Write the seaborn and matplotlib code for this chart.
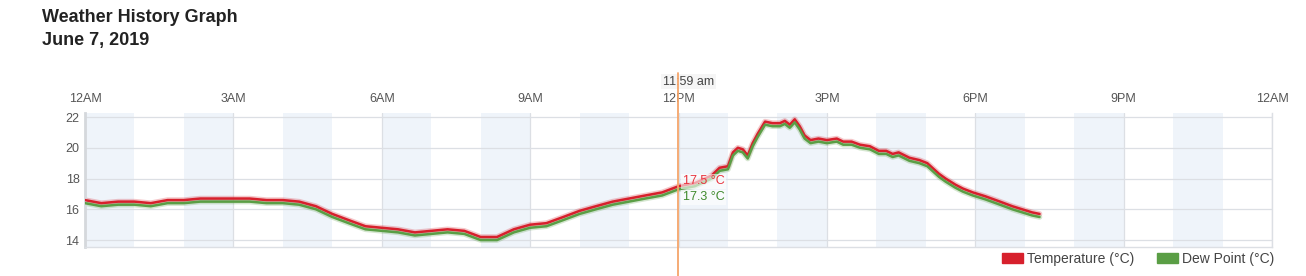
import matplotlib
matplotlib.use("Agg")
import matplotlib.pyplot as plt
import matplotlib.patches as mpatches
import seaborn as sns
import pandas as pd

# ---- data ----
hours = [0.0, 0.33, 0.67, 1.0, 1.33, 1.67, 2.0, 2.33, 2.67, 3.0, 3.33, 3.67,
         4.0, 4.33, 4.67, 5.0, 5.33, 5.67, 6.0, 6.33, 6.67, 7.0, 7.33, 7.67,
         8.0, 8.33, 8.67, 9.0, 9.33, 9.67, 10.0, 10.33, 10.67, 11.0, 11.33,
         11.67, 12.0, 12.33, 12.67, 12.83, 13.0, 13.1, 13.2, 13.3, 13.4, 13.5,
         13.6, 13.75, 13.9, 14.05, 14.15, 14.25, 14.35, 14.45, 14.55, 14.67,
         14.83, 15.0, 15.2, 15.33, 15.5, 15.67, 15.87, 16.05, 16.2, 16.33,
         16.45, 16.67, 16.87, 17.03, 17.15, 17.27, 17.4, 17.6, 17.75, 17.95,
         18.2, 18.5, 18.75, 18.9, 19.0, 19.15, 19.3]
temperature = [16.6, 16.4, 16.5, 16.5, 16.4, 16.6, 16.6, 16.7, 16.7, 16.7, 16.7, 16.6,
               16.6, 16.5, 16.2, 15.7, 15.3, 14.9, 14.8, 14.7, 14.5, 14.6, 14.7, 14.6,
               14.2, 14.2, 14.7, 15.0, 15.1, 15.5, 15.9, 16.2, 16.5, 16.7, 16.9,
               17.1, 17.5, 17.7, 18.2, 18.7, 18.8, 19.7, 20.0, 19.9, 19.5, 20.3,
               20.9, 21.7, 21.6, 21.6, 21.75, 21.5, 21.85, 21.4, 20.8, 20.5,
               20.6, 20.5, 20.6, 20.4, 20.4, 20.2, 20.1, 19.8, 19.8, 19.6,
               19.7, 19.35, 19.2, 19.0, 18.65, 18.3, 18.0, 17.6, 17.35, 17.1,
               16.85, 16.5, 16.2, 16.05, 15.95, 15.8, 15.7]
dew_point = [16.4, 16.2, 16.3, 16.3, 16.2, 16.4, 16.4, 16.5, 16.5, 16.5, 16.5, 16.4,
             16.4, 16.3, 16.0, 15.5, 15.1, 14.7, 14.6, 14.5, 14.3, 14.4, 14.5, 14.4,
             14.0, 14.0, 14.5, 14.8, 14.9, 15.3, 15.7, 16.0, 16.3, 16.5, 16.7,
             16.9, 17.3, 17.5, 18.0, 18.5, 18.6, 19.5, 19.8, 19.7, 19.3, 20.1,
             20.7, 21.5, 21.4, 21.4, 21.55, 21.3, 21.65, 21.2, 20.6, 20.3,
             20.4, 20.3, 20.4, 20.2, 20.2, 20.0, 19.9, 19.6, 19.6, 19.4,
             19.5, 19.15, 19.0, 18.8, 18.45, 18.1, 17.8, 17.4, 17.15, 16.9,
             16.65, 16.3, 16.0, 15.85, 15.75, 15.6, 15.5]
tick_hours = [0, 3, 6, 9, 12, 15, 18, 21, 24]
tick_labels = ["12AM", "3AM", "6AM", "9AM", "12PM", "3PM", "6PM", "9PM", "12AM"]
y_ticks = [14, 16, 18, 20, 22]
cursor_hour = 11 + 59 / 60
cursor_label = "11:59 am"
cursor_temp = "17.5 °C"
cursor_dew = "17.3 °C"
series_names = ["Temperature (°C)", "Dew Point (°C)"]

# ---- style ----
sns.set_style("white")
plt.rcParams["font.family"] = ["Liberation Sans", "DejaVu Sans"]

TEMP_C = "#d7202c"
DEW_C = "#5a9e45"
GRID_C = "#dcdfe4"
TEXT_C = "#555555"

fig = plt.figure(figsize=(13.06, 2.76), dpi=100)
ax = fig.add_axes([85 / 1306, 1 - 247 / 276, (1272 - 85) / 1306, (247 - 113) / 276])

df = pd.DataFrame({
    "hour": hours * 2,
    "value": temperature + dew_point,
    "series": [series_names[0]] * len(hours) + [series_names[1]] * len(hours),
})

# alternate hour shading
for h in range(0, 24, 2):
    ax.axvspan(h, h + 1, color="#eff4fa", lw=0, zorder=0)

# soft halo under lines
sns.lineplot(data=df, x="hour", y="value", hue="series",
             palette=[TEMP_C, DEW_C], lw=4.0, alpha=0.25, ax=ax,
             legend=False, zorder=2)
sns.lineplot(data=df, x="hour", y="value", hue="series",
             palette=[TEMP_C, DEW_C], lw=1.8, ax=ax, legend=False, zorder=3)

ax.set_xlim(0, 24)
ax.set_ylim(13.55, 22.26)
ax.set_xticks(tick_hours)
ax.set_xticklabels(tick_labels)
ax.set_yticks(y_ticks)
ax.xaxis.tick_top()
ax.tick_params(axis="x", length=0, pad=6, labelsize=9, colors=TEXT_C)
ax.tick_params(axis="y", length=0, pad=4, labelsize=9, colors=TEXT_C)
ax.set_xlabel("")
ax.set_ylabel("")
ax.grid(True, color=GRID_C, lw=0.9, zorder=1)
ax.set_axisbelow(True)
ax.spines["top"].set_visible(False)
ax.spines["left"].set_color("#d5d8dc")
ax.spines["left"].set_linewidth(2)
ax.spines["right"].set_color(GRID_C)
ax.spines["right"].set_linewidth(1)
ax.spines["bottom"].set_color(GRID_C)
ax.spines["bottom"].set_linewidth(1)

# cursor line
ax.axvline(cursor_hour, ymin=-0.25, ymax=1.30, color="#f5a56a", lw=1.3,
           clip_on=False, zorder=5)
ax.text(cursor_hour + 0.22, 1.235, cursor_label, transform=ax.get_xaxis_transform(),
        ha="center", va="center", fontsize=9, color="#444444",
        bbox=dict(boxstyle="square,pad=0.15", fc="#f4f4f4", ec="none", alpha=0.9),
        zorder=4)
ax.text(cursor_hour + 0.1, 17.82, cursor_temp, ha="left", va="center", fontsize=9,
        color="#e8323c", zorder=6,
        bbox=dict(boxstyle="square,pad=0.1", fc="white", ec="none", alpha=0.6))
ax.text(cursor_hour + 0.1, 16.78, cursor_dew, ha="left", va="center", fontsize=9,
        color="#3f8a2c", zorder=6,
        bbox=dict(boxstyle="square,pad=0.1", fc="white", ec="none", alpha=0.6))

# titles
fig.text(42 / 1306, 1 - 18 / 276, "Weather History Graph", fontsize=13,
         fontweight="bold", color="#222222", ha="left", va="center")
fig.text(42 / 1306, 1 - 41 / 276, "June 7, 2019", fontsize=13,
         fontweight="bold", color="#222222", ha="left", va="center")

# legend
handles = [mpatches.Patch(color=TEMP_C, label=series_names[0]),
           mpatches.Patch(color=DEW_C, label=series_names[1])]
leg = fig.legend(handles=handles, loc="center right",
                 bbox_to_anchor=(1274 / 1306, 1 - 259 / 276), ncol=2,
                 frameon=False, fontsize=10, handlelength=1.5, handleheight=0.75,
                 handletextpad=0.25, columnspacing=1.7, borderaxespad=0,
                 borderpad=0)
for t in leg.get_texts():
    t.set_color("#444444")

fig.savefig("out.png", dpi=100)
